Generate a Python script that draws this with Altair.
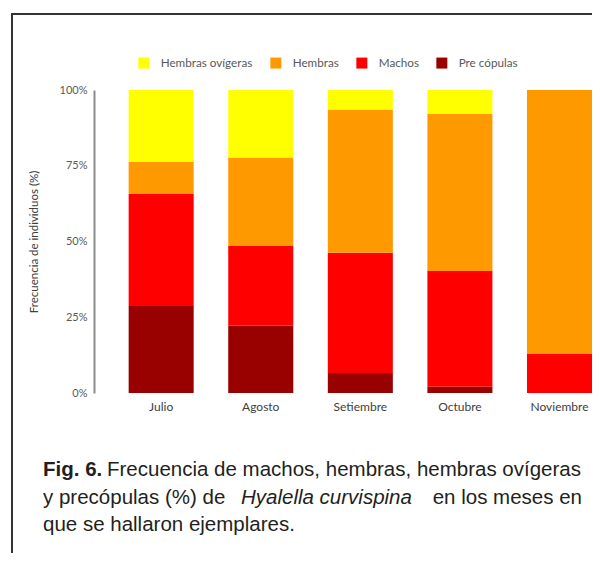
import altair as alt
import pandas as pd

# ---- data ----
meses = ["Julio", "Agosto", "Setiembre", "Octubre", "Noviembre"]
categorias = ["Hembras ovígeras", "Hembras", "Machos", "Pre cópulas"]
colores = ["#FFFF00", "#FF9900", "#FF0000", "#990000"]

pre_copulas = [28.7, 22.3, 6.6, 2.1, 0.0]
machos = [37.0, 26.2, 39.7, 38.2, 12.9]
hembras = [10.6, 29.2, 47.3, 51.8, 87.1]
hembras_ovigeras = [23.7, 22.3, 6.4, 7.9, 0.0]

y_ticks = [0, 25, 50, 75, 100]
y_title = "Frecuencia de individuos (%)"

caption_bold = "Fig. 6."
caption_l1 = "Frecuencia de machos, hembras, hembras ovígeras"
caption_l2a = "y precópulas (%) de"
caption_l2_italic = "Hyalella curvispina"
caption_l2b = "en los meses en"
caption_l3 = "que se hallaron ejemplares."

# stacking order: bottom -> top
series = {
    "Pre cópulas": pre_copulas,
    "Machos": machos,
    "Hembras": hembras,
    "Hembras ovígeras": hembras_ovigeras,
}
rows = []
for orden, (cat, vals) in enumerate(series.items()):
    for mes, v in zip(meses, vals):
        rows.append({"mes": mes, "categoria": cat, "valor": v, "orden": orden})
df = pd.DataFrame(rows)

W, H = 498, 303

bars = alt.Chart(df).mark_bar(stroke=None).encode(
    x=alt.X(
        "mes:N",
        sort=meses,
        scale=alt.Scale(paddingInner=0.347, paddingOuter=0.174, align=1),
        axis=alt.Axis(
            title=None, labelAngle=0, domain=False, ticks=False, labelPadding=8,
            labelFont="Lato", labelFontSize=12, labelColor="#404040",
        ),
    ),
    y=alt.Y(
        "valor:Q",
        stack="zero",
        scale=alt.Scale(domain=[0, 100], nice=False),
        axis=alt.Axis(
            values=y_ticks, labelExpr="datum.value + '%'", grid=False, ticks=False,
            domainColor="#8c8c8c", domainWidth=2, labelFont="Lato", labelFontSize=11,
            labelColor="#595959", labelPadding=7, title=y_title, titleFont="Lato",
            titleFontSize=11.5, titleFontWeight="normal", titleColor="#404040",
            titlePadding=20,
        ),
    ),
    color=alt.Color(
        "categoria:N",
        scale=alt.Scale(domain=categorias, range=colores),
        legend=alt.Legend(
            title=None, orient="none", direction="horizontal", legendX=44, legendY=-33,
            symbolType="square", symbolSize=121, symbolStrokeWidth=0,
            labelFont="Lato", labelFontSize=11.7, labelColor="#595959",
            columnPadding=17, labelOffset=11,
        ),
    ),
    order=alt.Order("orden:Q", sort="ascending"),
)

one = pd.DataFrame({"k": [0]})

frame_top = alt.Chart(one).mark_rule(stroke="#333333", strokeWidth=2).encode(
    x=alt.value(-83), x2=alt.value(700), y=alt.value(-76)
)
frame_left = alt.Chart(one).mark_rule(stroke="#333333", strokeWidth=2).encode(
    x=alt.value(-82), y=alt.value(-77), y2=alt.value(700)
)

def txt(s, x, y, align="left", weight="normal", style="normal"):
    return alt.Chart(one).mark_text(
        text=s, align=align, baseline="alphabetic", font="Liberation Sans",
        fontSize=20.5, fontWeight=weight, fontStyle=style, color="#231f20",
    ).encode(x=alt.value(x), y=alt.value(y))

cap = [
    txt(caption_bold, -51, 386, weight="bold"),
    txt(caption_l1, 487, 386, align="right"),
    txt(caption_l2a, -51, 414),
    txt(caption_l2_italic, 147, 414, style="italic"),
    txt(caption_l2b, 488, 414, align="right"),
    txt(caption_l3, -51, 441),
]

chart = alt.layer(frame_top, frame_left, bars, *cap).properties(
    width=W, height=H,
    autosize=alt.AutoSizeParams(type="none"),
    padding={"left": 86, "top": 82, "right": 0, "bottom": 160},
).configure_view(stroke="transparent")

chart.save("out.html", embed_options={"renderer": "svg", "actions": False})
